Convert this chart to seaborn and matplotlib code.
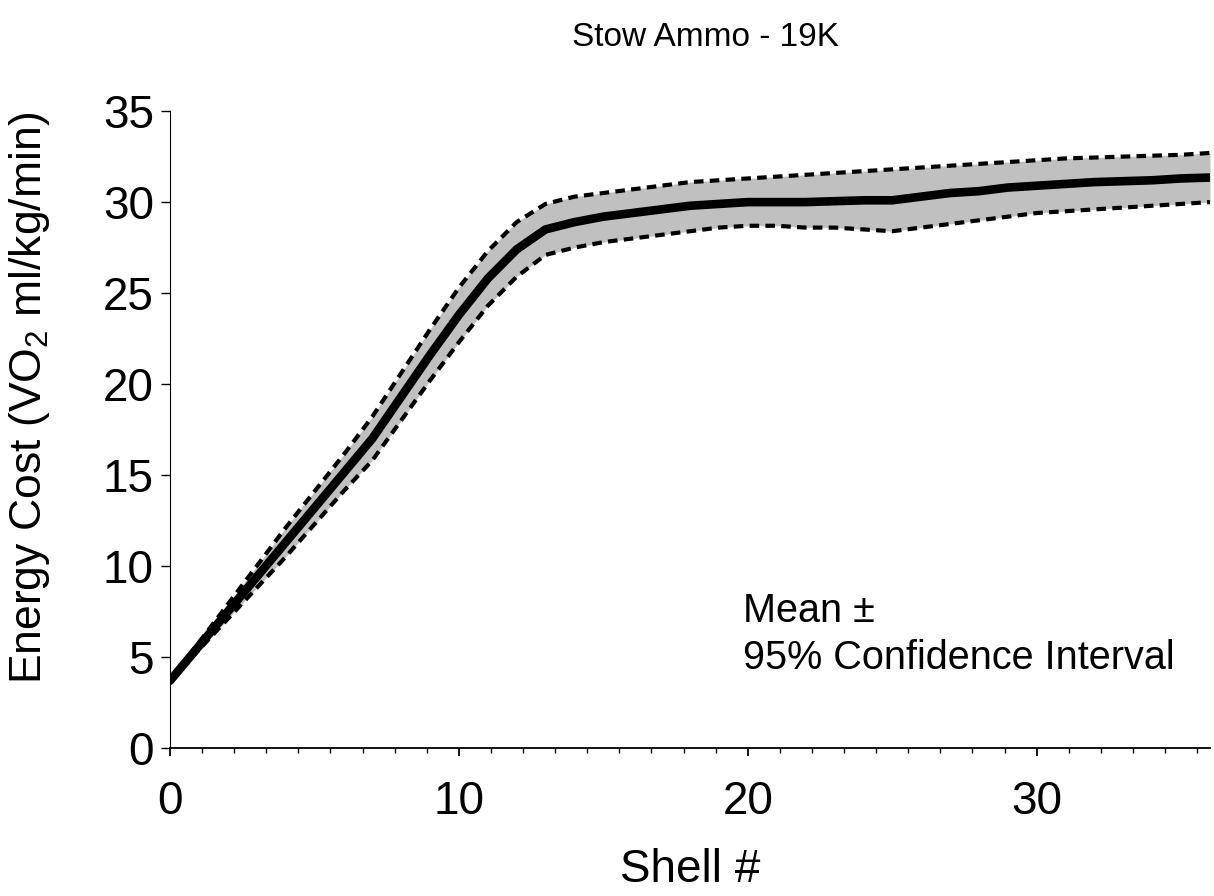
import matplotlib
matplotlib.use("Agg")
import matplotlib.pyplot as plt
import seaborn as sns
import numpy as np
import pandas as pd
from matplotlib.ticker import MultipleLocator

shell = list(range(0, 37))
mean_vals = [3.7, 5.6, 7.5, 9.4, 11.3, 13.2, 15.1, 17.0, 19.3, 21.6, 23.8, 25.8, 27.4, 28.5,
             28.9, 29.2, 29.4, 29.6, 29.8, 29.9, 30.0, 30.0, 30.0, 30.05, 30.1, 30.1, 30.3,
             30.5, 30.6, 30.8, 30.9, 31.0, 31.1, 31.15, 31.2, 31.3, 31.35]
upper_vals = [3.7, 5.8, 7.9, 10.0, 12.1, 14.1, 16.1, 18.2, 20.6, 23.0, 25.3, 27.3, 28.9, 29.9,
              30.3, 30.5, 30.7, 30.9, 31.1, 31.2, 31.3, 31.4, 31.5, 31.6, 31.7, 31.8, 31.9,
              32.0, 32.1, 32.2, 32.3, 32.4, 32.45, 32.5, 32.55, 32.6, 32.7]
lower_vals = [3.7, 5.4, 7.1, 8.8, 10.5, 12.3, 14.1, 15.8, 18.0, 20.2, 22.3, 24.3, 25.9, 27.1,
              27.5, 27.8, 28.0, 28.2, 28.4, 28.6, 28.7, 28.7, 28.6, 28.6, 28.5, 28.4, 28.6,
              28.8, 29.0, 29.2, 29.4, 29.5, 29.6, 29.7, 29.8, 29.9, 30.0]

df = pd.DataFrame({"shell": shell, "mean": mean_vals, "upper": upper_vals, "lower": lower_vals})

sns.set_style("white")
plt.rcParams['font.family'] = ['Liberation Sans', 'DejaVu Sans']
plt.rcParams['mathtext.fontset'] = 'custom'
plt.rcParams['mathtext.rm'] = 'Liberation Sans'
plt.rcParams['text.color'] = 'black'
plt.rcParams['axes.labelcolor'] = 'black'
plt.rcParams['xtick.color'] = 'black'
plt.rcParams['ytick.color'] = 'black'

fig = plt.figure(figsize=(12.14, 8.96), dpi=100)
ax = fig.add_axes([0.140, 0.165, 0.8567, 0.711])

ax.fill_between(df["shell"], df["lower"], df["upper"], color="#c0c0c0", linewidth=0, zorder=1)
sns.lineplot(data=df, x="shell", y="upper", ax=ax, color="black", linewidth=3.0,
             linestyle=(0, (2.3, 1.5)), zorder=2)
sns.lineplot(data=df, x="shell", y="lower", ax=ax, color="black", linewidth=3.0,
             linestyle=(0, (2.3, 1.5)), zorder=2)
sns.lineplot(data=df, x="shell", y="mean", ax=ax, color="black", linewidth=6.2, zorder=3)

ax.set_xlim(0, 36)
ax.set_ylim(0, 35)
ax.xaxis.set_major_locator(MultipleLocator(10))
ax.xaxis.set_minor_locator(MultipleLocator(10 / 9))
ax.yaxis.set_major_locator(MultipleLocator(5))

for side in ["top", "right"]:
    ax.spines[side].set_visible(False)
ax.spines["left"].set_linewidth(0.8)
ax.spines["bottom"].set_linewidth(1.3)
ax.spines["left"].set_color("black")
ax.spines["bottom"].set_color("black")

ax.tick_params(axis="x", which="major", direction="out", length=6, width=1.3,
               labelsize=33, pad=17, bottom=True)
ax.tick_params(axis="x", which="minor", direction="out", length=3.5, width=1.0, bottom=True)
ax.tick_params(axis="y", which="major", direction="out", length=6.5, width=1.0,
               labelsize=33, pad=5, left=True)

ax.set_xlabel("Shell #", fontsize=33, labelpad=17)
ax.set_ylabel(r"Energy Cost (VO$_\mathregular{2}$ ml/kg/min)", fontsize=32)
ax.yaxis.set_label_coords(-0.113, 0.55)
fig.text(0.581, 0.958, "Stow Ammo - 19K", fontsize=24, ha="center", va="center")

ax.text(19.85, 8.6, "Mean \u00b1\n95% Confidence Interval", fontsize=28.5,
        ha="left", va="top", linespacing=1.3)

fig.savefig("out.png", dpi=100)
